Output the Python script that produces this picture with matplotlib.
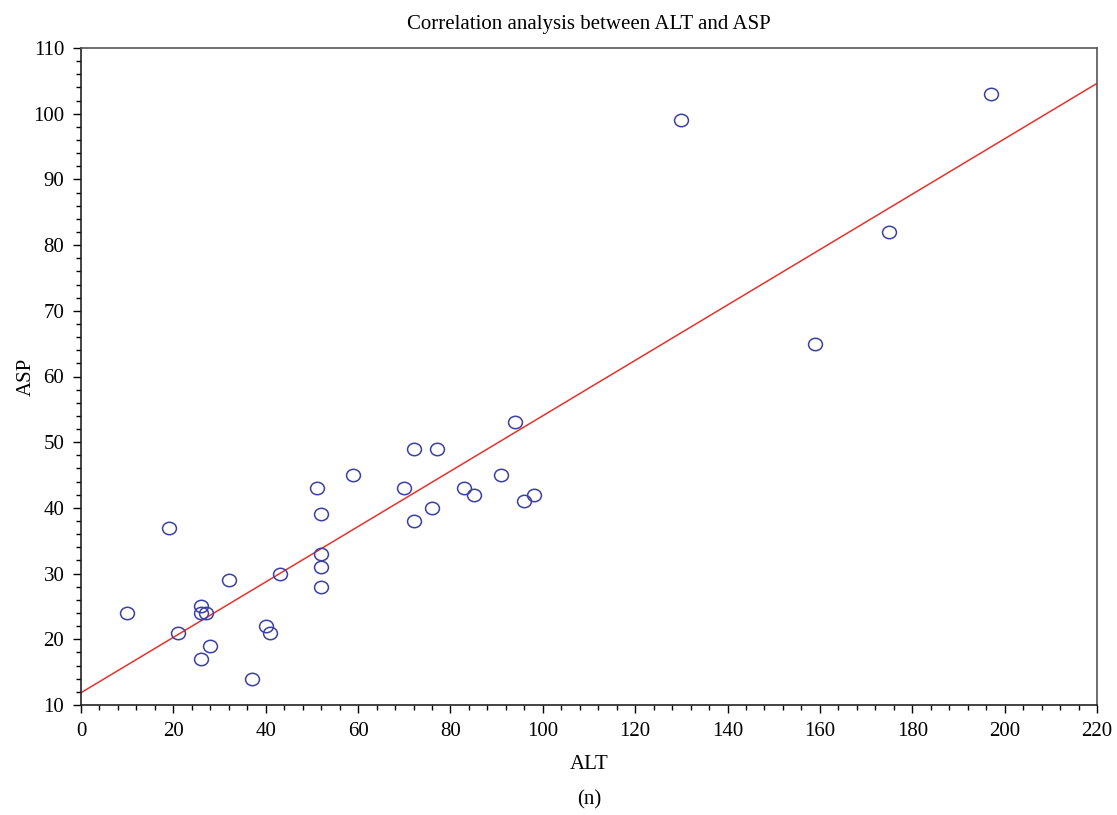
import numpy as np
import matplotlib
matplotlib.use("Agg")
import matplotlib.pyplot as plt
from matplotlib.ticker import MultipleLocator
from matplotlib.path import Path
from matplotlib.transforms import Affine2D

# ================== DATA ==================

alt = [10, 19, 21, 26, 26, 27, 26, 28, 32, 37, 40, 41, 43, 51, 52, 52, 52, 52,
       59, 70, 72, 72, 77, 76, 83, 85, 91, 94, 96, 98, 130, 159, 175, 197]
asp = [24, 37, 21, 25, 24, 24, 17, 19, 29, 14, 22, 21, 30, 43, 39, 33, 31, 28,
       45, 43, 49, 38, 49, 40, 43, 42, 45, 53, 41, 42, 99, 65, 82, 103]

X_LIM = (0, 220)
Y_LIM = (10, 110)

# ================== PLOT ==================

plt.rcParams['font.family'] = ['Liberation Serif', 'DejaVu Serif']

fig = plt.figure(figsize=(11.17, 8.15), dpi=100)
ax = fig.add_axes([81 / 1117, 1 - 705 / 815, 1016 / 1117, 657 / 815])

x = np.array(alt, dtype=float)
y = np.array(asp, dtype=float)

# least squares fit line across the full x range
slope, intercept = np.polyfit(x, y, 1)
xs = np.array(X_LIM, dtype=float)
ax.plot(xs, intercept + slope * xs, color="#e8322b", lw=1.1, zorder=2)

# slightly wide open ellipse, like the original markers
ellipse = Path.unit_circle().transformed(Affine2D().scale(1.12, 1.0))
ax.plot(x, y, linestyle="none", marker=ellipse, markersize=10,
        markerfacecolor="none", markeredgecolor="#3b40a6", markeredgewidth=1.1,
        zorder=3)

ax.set_xlim(*X_LIM)
ax.set_ylim(*Y_LIM)
ax.xaxis.set_major_locator(MultipleLocator(20))
ax.xaxis.set_minor_locator(MultipleLocator(4))
ax.yaxis.set_major_locator(MultipleLocator(10))
ax.yaxis.set_minor_locator(MultipleLocator(2))
ax.tick_params(which="major", direction="out", length=6, width=1, labelsize=15, pad=6)
ax.tick_params(which="minor", direction="out", length=3.5, width=1)

for side in ("left", "bottom"):
    ax.spines[side].set_color("#222222")
    ax.spines[side].set_linewidth(1.2)
for side in ("top", "right"):
    ax.spines[side].set_color("#555555")
    ax.spines[side].set_linewidth(1.2)

ax.set_xlabel("ALT", fontsize=15, labelpad=10)
ax.set_ylabel("ASP", fontsize=15, labelpad=-2)
ax.set_title("Correlation analysis between ALT and ASP", fontsize=15, pad=14)

fig.text(589 / 1117, 1 - 800 / 815, "(n)", ha="center", va="center", fontsize=15)

fig.savefig("out.png", dpi=100)
